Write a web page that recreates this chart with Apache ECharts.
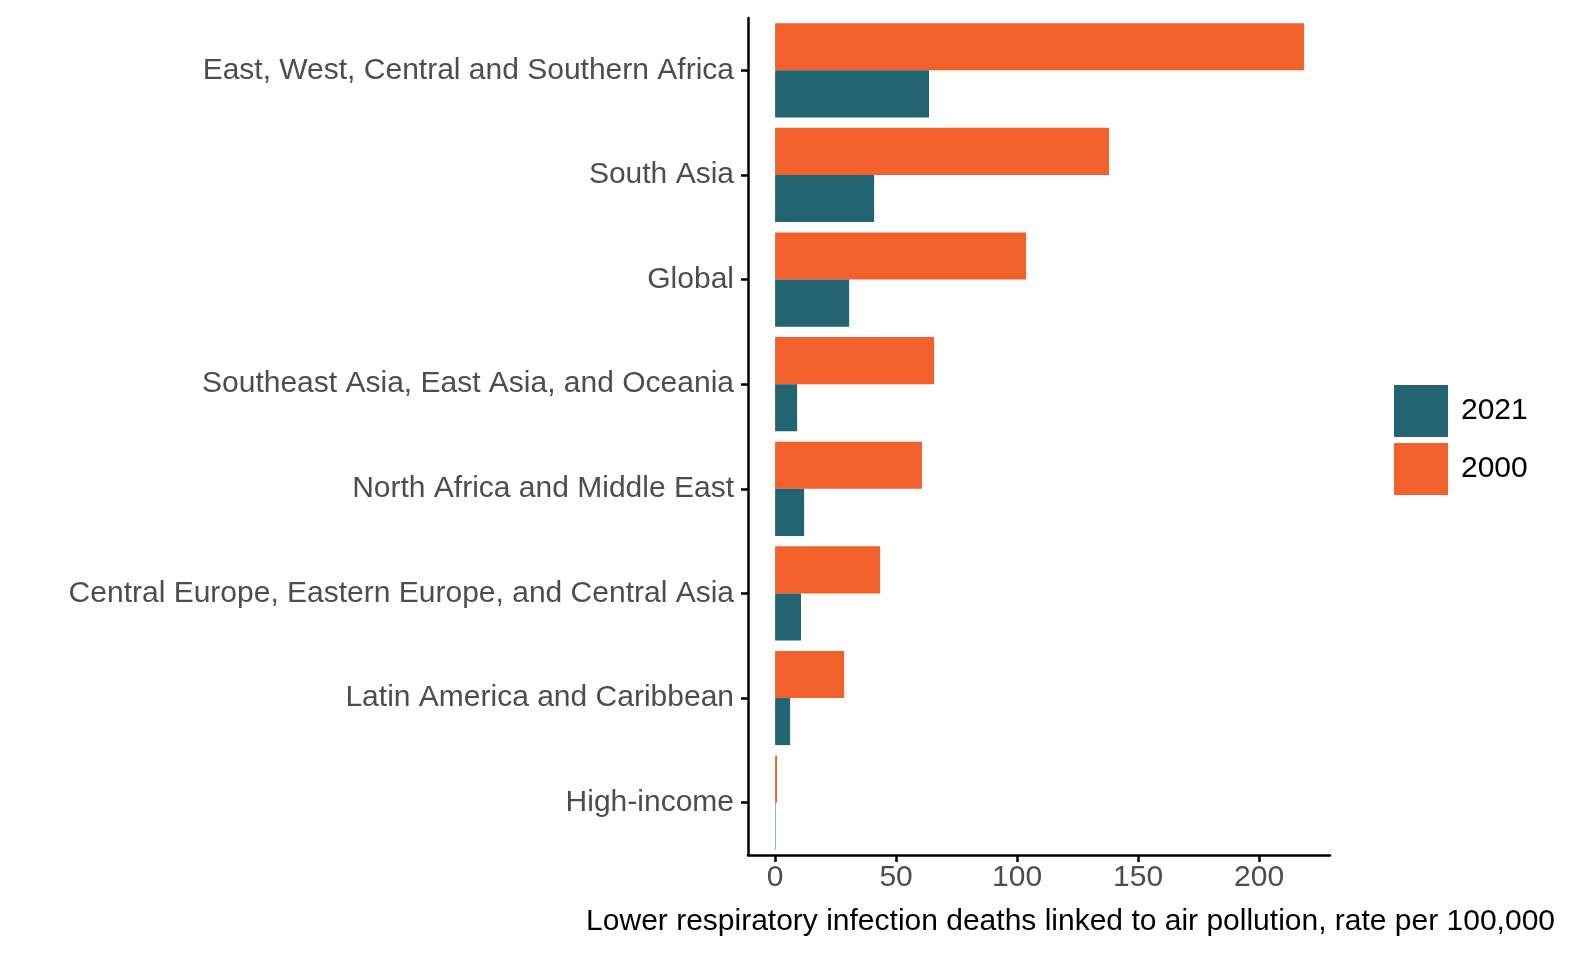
<!DOCTYPE html>
<html><head><meta charset="utf-8">
<script src="https://cdn.jsdelivr.net/npm/echarts@6/dist/echarts.min.js"></script>
<style>html,body{margin:0;padding:0;background:#fff}#c{width:1590px;height:960px}</style>
</head><body><div id="c"></div>
<script>
const categories = ["High-income","Latin America and Caribbean","Central Europe, Eastern Europe, and Central Asia","North Africa and Middle East","Southeast Asia, East Asia, and Oceania","Global","South Asia","East, West, Central and Southern Africa"];
const values2021 = [0.2, 6.2, 10.7, 12, 9.1, 30.6, 40.9, 63.6];
const values2000 = [0.8, 28.5, 43.4, 60.7, 65.7, 103.7, 138, 218.6];
const xTicks = [0, 50, 100, 150, 200];
const chart = echarts.init(document.getElementById('c'));
chart.setOption({
  animation:false,
  grid:{left:748,right:260,top:18,bottom:105,containLabel:false,outerBoundsMode:'none'},
  legend:{orient:'vertical',left:1389,top:380,itemWidth:54,itemHeight:52,itemGap:6,
    textStyle:{fontSize:30,color:'#000',fontFamily:'Liberation Sans',padding:[0,0,0,8]},
    data:['2021','2000'],icon:'rect'},
  xAxis:{type:'value',min:-11.2,max:229.3,splitLine:{show:false},
    axisLine:{show:true,onZero:false,lineStyle:{color:'#000',width:2.5}},
    axisTick:{show:true,length:7,lineStyle:{color:'#000',width:2.5},customValues:xTicks},
    axisLabel:{customValues:xTicks,fontSize:30,color:'#4d4d4d',fontFamily:'Liberation Sans',margin:8}},
  yAxis:{type:'category',data:categories,
    axisLine:{show:true,onZero:false,lineStyle:{color:'#000',width:2.5}},
    axisTick:{show:true,length:7,alignWithLabel:true,lineStyle:{color:'#000',width:2.5}},
    axisLabel:{fontSize:30,color:'#4d4d4d',fontFamily:'Liberation Sans',margin:14}},
  graphic:[{type:'text',right:35,top:907,style:{text:'Lower respiratory infection deaths linked to air pollution, rate per 100,000',fontSize:30,fill:'#000',fontFamily:'Liberation Sans'}}],
  series:[
    {name:'2000',type:'bar',data:values2000,barGap:'0%',barCategoryGap:'10%',itemStyle:{color:'#f2612b'}},
    {name:'2021',type:'bar',data:values2021,barGap:'0%',barCategoryGap:'10%',itemStyle:{color:'#236473'}}
  ]
});
chart.setOption({legend:{data:['2021','2000']}});
</script></body></html>
